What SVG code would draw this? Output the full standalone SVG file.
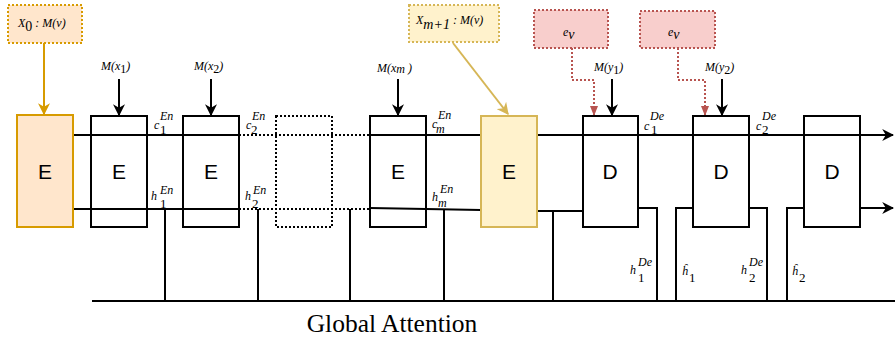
<svg xmlns="http://www.w3.org/2000/svg" width="895" height="338" viewBox="0 0 895 338">
<defs>
<marker id="ab" viewBox="0 0 10 10" refX="9" refY="5" markerWidth="6" markerHeight="6" orient="auto" markerUnits="strokeWidth"><path d="M0,0 L10,5 L0,10 L3,5 z" fill="#000"/></marker>
<marker id="ao" viewBox="0 0 10 10" refX="9" refY="5" markerWidth="6" markerHeight="6" orient="auto" markerUnits="strokeWidth"><path d="M0,0 L10,5 L0,10 L3,5 z" fill="#d79b00"/></marker>
<marker id="ay" viewBox="0 0 10 10" refX="9" refY="5" markerWidth="6" markerHeight="6" orient="auto" markerUnits="strokeWidth"><path d="M0,0 L10,5 L0,10 L3,5 z" fill="#d6b656"/></marker>
<marker id="ar" viewBox="0 0 10 10" refX="9" refY="5" markerWidth="5" markerHeight="6" orient="auto" markerUnits="strokeWidth"><path d="M0,1 L10,5 L0,9 z" fill="#b85450"/></marker>
</defs>
<style>
.ln{stroke:#000;stroke-width:2;fill:none}
.dl{stroke:#000;stroke-width:2;fill:none;stroke-dasharray:2 2}
.bx{stroke:#000;stroke-width:2;fill:none}
.lbl{font-family:"Liberation Sans",Arial,sans-serif;font-size:21px;text-anchor:middle;fill:#000}
.m{font-family:"Liberation Serif","Times New Roman",serif;font-style:italic;font-size:12px;fill:#000}
.rd{stroke:#b85450;stroke-width:2;fill:none;stroke-dasharray:2 2}
</style>
<g id="connectors">
<line class="ln" x1="73" y1="135" x2="239" y2="135"/>
<line class="dl" x1="239" y1="135" x2="370" y2="135"/>
<line class="ln" x1="370" y1="135" x2="893" y2="135" marker-end="url(#ab)"/>
<line class="ln" x1="73" y1="209" x2="239" y2="209"/>
<line class="dl" x1="239" y1="209" x2="370" y2="209"/>
<polyline class="ln" points="370,208 426,209 481,210"/>
<line class="ln" x1="537" y1="211" x2="583" y2="211"/>
<line class="ln" x1="92" y1="301" x2="895" y2="301"/>
<line class="ln" x1="165" y1="209" x2="165" y2="301"/>
<line class="ln" x1="258" y1="209" x2="258" y2="301"/>
<line class="ln" x1="350" y1="209" x2="350" y2="301"/>
<line class="ln" x1="444" y1="210" x2="444" y2="301"/>
<line class="ln" x1="553" y1="211" x2="553" y2="301"/>
<polyline class="ln" points="638,208 657,208 657,301"/>
<polyline class="ln" points="693,208 676,208 676,301"/>
<polyline class="ln" points="749,208 767,208 767,301"/>
<polyline class="ln" points="804,208 787,208 787,301"/>
<line class="ln" x1="860" y1="208" x2="893" y2="208" marker-end="url(#ab)"/>
<line class="ln" x1="119" y1="79" x2="119" y2="115" marker-end="url(#ab)"/>
<line class="ln" x1="211" y1="79" x2="211" y2="115" marker-end="url(#ab)"/>
<line class="ln" x1="398" y1="79" x2="398" y2="115" marker-end="url(#ab)"/>
<line class="ln" x1="612" y1="79" x2="612" y2="115" marker-end="url(#ab)"/>
<line class="ln" x1="722" y1="79" x2="722" y2="115" marker-end="url(#ab)"/>
<line x1="44" y1="43" x2="44" y2="114" stroke="#d79b00" stroke-width="2" marker-end="url(#ao)"/>
<line x1="453" y1="43" x2="508" y2="114" stroke="#d6b656" stroke-width="2" marker-end="url(#ay)"/>
<polyline class="rd" points="572,48 572,80 594,80 594,115" marker-end="url(#ar)"/>
<polyline class="rd" points="678,48 678,80 705,80 705,115" marker-end="url(#ar)"/>
</g>
<g id="x0"><rect x="8" y="5" width="74" height="38" fill="#ffe6cc" stroke="#d79b00" stroke-width="2" stroke-dasharray="2 2"/>
<text x="18" y="27" class="m" font-size="16">X<tspan font-style="normal" font-size="14" dy="4">0</tspan><tspan dy="-4" font-size="12"> : M(v)</tspan></text></g>
<g id="xm1"><rect x="409" y="5" width="90" height="37" fill="#fff2cc" stroke="#d6b656" stroke-width="2" stroke-dasharray="2 2"/>
<text x="416" y="24" class="m" font-size="16">X<tspan font-size="14" dy="5">m+1</tspan><tspan dy="-5" font-size="12"> : M(v)</tspan></text></g>
<g id="ev1"><rect x="534" y="10" width="74" height="38" fill="#f8cecc" stroke="#b85450" stroke-width="2" stroke-dasharray="2 2"/>
<text x="563" y="36" class="m" font-size="19">e<tspan font-size="14" dy="3">v</tspan></text></g>
<g id="ev2"><rect x="640" y="11" width="75" height="37" fill="#f8cecc" stroke="#b85450" stroke-width="2" stroke-dasharray="2 2"/>
<text x="668" y="36" class="m" font-size="19">e<tspan font-size="14" dy="3">v</tspan></text></g>
<g id="e0"><rect x="17" y="115" width="56" height="112" fill="#ffe6cc" stroke="#d79b00" stroke-width="2"/><text x="45" y="179" class="lbl">E</text></g>
<g id="e1"><rect class="bx" x="91" y="116" width="56" height="111"/><text x="119" y="179" class="lbl">E</text></g>
<g id="e2"><rect class="bx" x="183" y="116" width="56" height="111"/><text x="211" y="179" class="lbl">E</text></g>
<g id="edots"><rect class="dl" x="276" y="116" width="56" height="111"/></g>
<g id="em"><rect class="bx" x="370" y="116" width="56" height="111"/><text x="398" y="179" class="lbl">E</text></g>
<g id="em1"><rect x="481" y="116" width="56" height="111" fill="#fff2cc" stroke="#d6b656" stroke-width="2"/><text x="509" y="179" class="lbl">E</text></g>
<g id="d1"><rect class="bx" x="583" y="116" width="55" height="111"/><text x="610" y="179" class="lbl">D</text></g>
<g id="d2"><rect class="bx" x="693" y="116" width="56" height="111"/><text x="721" y="179" class="lbl">D</text></g>
<g id="d3"><rect class="bx" x="804" y="116" width="56" height="111"/><text x="832" y="179" class="lbl">D</text></g>
<g id="labels">
<text x="101" y="70" class="m" font-size="13">M(x<tspan font-style="normal" dy="3">1</tspan><tspan dy="-3">)</tspan></text>
<text x="194" y="70" class="m" font-size="13">M(x<tspan font-style="normal" dy="3">2</tspan><tspan dy="-3">)</tspan></text>
<text x="377" y="72" class="m" font-size="12">M(x<tspan dy="1">m</tspan><tspan dy="-1"> )</tspan></text>
<text x="594" y="71" class="m" font-size="13">M(y<tspan font-style="normal" dy="3">1</tspan><tspan dy="-3">)</tspan></text>
<text x="705" y="71" class="m" font-size="13">M(y<tspan font-style="normal" dy="3">2</tspan><tspan dy="-3">)</tspan></text>
<text class="m" font-size="11"><tspan x="154" y="129">c</tspan><tspan x="160" y="120" font-size="12">En</tspan><tspan x="160" y="134" font-style="normal" font-size="13">1</tspan></text>
<text class="m" font-size="11"><tspan x="246" y="129">c</tspan><tspan x="252" y="120" font-size="12">En</tspan><tspan x="251" y="134" font-style="normal" font-size="13">2</tspan></text>
<text class="m" font-size="11"><tspan x="432" y="128">c</tspan><tspan x="438" y="119" font-size="12">En</tspan><tspan x="436" y="133" font-size="12">m</tspan></text>
<text class="m" font-size="11"><tspan x="151" y="200">h</tspan><tspan x="160" y="194" font-size="12">En</tspan><tspan x="160" y="208" font-style="normal" font-size="13">1</tspan></text>
<text class="m" font-size="11"><tspan x="245" y="200">h</tspan><tspan x="253" y="194" font-size="12">En</tspan><tspan x="252" y="208" font-style="normal" font-size="13">2</tspan></text>
<text class="m" font-size="11"><tspan x="432" y="201">h</tspan><tspan x="440" y="193" font-size="12">En</tspan><tspan x="438" y="207" font-size="12">m</tspan></text>
<text class="m" font-size="11"><tspan x="644" y="130">c</tspan><tspan x="650" y="120" font-size="12">De</tspan><tspan x="651" y="134" font-style="normal" font-size="13">1</tspan></text>
<text class="m" font-size="11"><tspan x="756" y="130">c</tspan><tspan x="762" y="120" font-size="12">De</tspan><tspan x="762" y="134" font-style="normal" font-size="13">2</tspan></text>
<text class="m" font-size="11"><tspan x="630" y="274">h</tspan><tspan x="638" y="266" font-size="12">De</tspan><tspan x="638" y="282" font-style="normal" font-size="13">1</tspan></text>
<text class="m" font-size="11"><tspan x="741" y="274">h</tspan><tspan x="749" y="266" font-size="12">De</tspan><tspan x="749" y="282" font-style="normal" font-size="13">2</tspan></text>
<text class="m" font-size="11"><tspan x="682" y="275">ĥ</tspan><tspan x="689" y="282" font-style="normal" font-size="13">1</tspan></text>
<text class="m" font-size="11"><tspan x="792" y="275">ĥ</tspan><tspan x="799" y="282" font-style="normal" font-size="13">2</tspan></text>
<text x="392" y="332" font-family="'Liberation Serif','Times New Roman',serif" font-size="25.5" text-anchor="middle">Global Attention</text>
</g>
</svg>
